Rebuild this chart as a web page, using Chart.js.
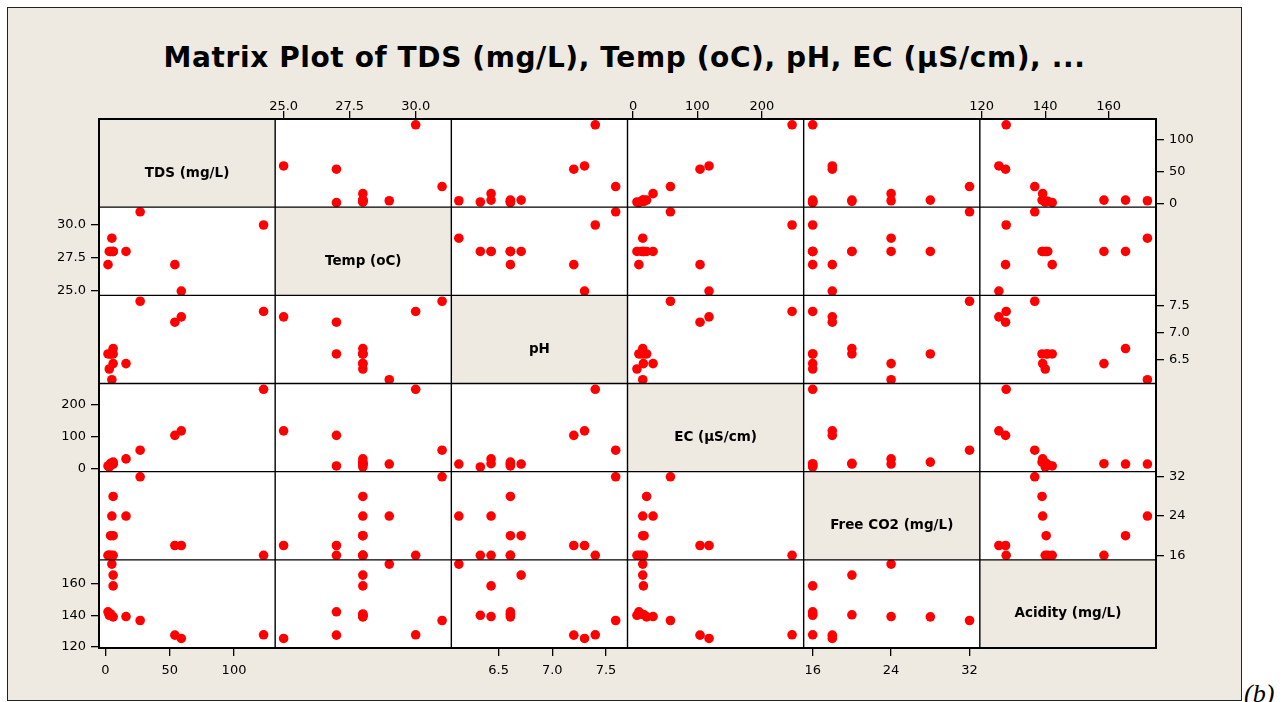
<!DOCTYPE html>
<html><head><meta charset="utf-8">
<script src="https://cdn.jsdelivr.net/npm/chart.js@4/dist/chart.umd.min.js"></script>
<style>
html,body{margin:0;padding:0;background:#fff;width:1287px;height:702px;overflow:hidden;}
#frame{position:absolute;left:7px;top:7px;width:1233px;height:692px;background:#EEEAE1;border:1px solid #222;}
#title{position:absolute;left:8px;width:1233px;top:42px;line-height:32px;text-align:center;font-weight:bold;font-size:28px;letter-spacing:0.6px;font-family:"DejaVu Sans";color:#000;white-space:nowrap;}
#cv{position:absolute;left:0;top:0;}
#tag{position:absolute;left:1244px;top:680px;font-style:italic;font-size:26px;font-family:"Liberation Serif";line-height:28px;}
</style></head><body>
<div id="frame"></div>
<div id="title">Matrix Plot of TDS (mg/L), Temp (oC), pH, EC (µS/cm), ...</div>
<div id="tag">(b)</div>
<canvas id="cv" width="1287" height="702"></canvas>
<script>
// Variable names (diagonal labels)
const varNames = ["TDS (mg/L)", "Temp (oC)", "pH", "EC (µS/cm)", "Free CO2 (mg/L)", "Acidity (mg/L)"];
// Sample values (13 samples)
const tds  = [27, 6, 5, 16, 6, 4, 54, 59, 6, 2, 4, 3, 123];
const temp = [31, 28, 29, 28, 28, 28, 27, 25, 28, 27, 28, 28, 30];
const ph   = [7.59, 6.61, 6.13, 6.43, 6.71, 6.61, 7.2, 7.3, 6.43, 6.61, 6.61, 6.33, 7.4];
const ec   = [58, 21, 15, 31, 15, 17, 104, 118, 16, 9, 13, 6, 247];
const co2  = [32, 28, 24, 24, 20, 20, 18, 18, 16, 16, 16, 16, 16];
const acid = [136.7, 139, 172.2, 139.2, 165.3, 140.3, 127.5, 125.4, 158.5, 142.2, 140.8, 140, 127.7];
// Axis tick values and labels
const tdsTicks  = [0, 50, 100];      const tdsLabels  = ["0", "50", "100"];
const tempTicks = [25, 27.5, 30];    const tempLabels = ["25.0", "27.5", "30.0"];
const phTicks   = [6.5, 7, 7.5];     const phLabels   = ["6.5", "7.0", "7.5"];
const ecTicks   = [0, 100, 200];     const ecLabels   = ["0", "100", "200"];
const co2Ticks  = [16, 24, 32];      const co2Labels  = ["16", "24", "32"];
const acidTicks = [120, 140, 160];   const acidLabels = ["120", "140", "160"];
// Axis bounds
const axisMin = [-5, 24.68, 6.06, -8.7, 15.08, 119.4];
const axisMax = [132, 31.35, 7.70, 265, 33.05, 174.9];

const vars = [tds, temp, ph, ec, co2, acid];
const ticksV = [tdsTicks, tempTicks, phTicks, ecTicks, co2Ticks, acidTicks];
const ticksL = [tdsLabels, tempLabels, phLabels, ecLabels, co2Labels, acidLabels];
const N = vars.length;
const BEIGE = '#EEEAE1';
const FONT = '"DejaVu Sans"';

function makeScale(i, position, stack, show) {
  const horiz = position === 'top' || position === 'bottom';
  return {
    type: 'linear', position: position, stack: stack, stackWeight: 1,
    min: axisMin[i], max: axisMax[i],
    afterBuildTicks: s => { s.ticks = show ? ticksV[i].map(v => ({value: v})) : []; },
    ticks: {
      display: show, autoSkip: false, maxRotation: 0, minRotation: 0,
      color: '#000', font: {family: FONT, size: 13},
      padding: horiz ? (position === 'top' ? -3 : 7) : 5,
      callback: v => { const k = ticksV[i].indexOf(v); return k >= 0 ? ticksL[i][k] : ''; }
    },
    grid: { display: show, drawOnChartArea: false, drawTicks: true, tickLength: 8, color: '#000', lineWidth: 1.3 },
    border: { display: false },
    afterFit: s => {
      if (horiz) { s.height = 30; } else { s.width = 45; }
      s.paddingLeft = 0; s.paddingRight = 0; s.paddingTop = 0; s.paddingBottom = 0;
    }
  };
}

const scales = {};
// left and top boxes are laid out in reverse index order
for (let i = N - 1; i >= 0; i--) scales['yl' + i] = makeScale(i, 'left', 'L', i % 2 === 1);
for (let i = N - 1; i >= 0; i--) scales['xt' + i] = makeScale(i, 'top', 'T', i % 2 === 1);
for (let i = 0; i < N; i++) scales['yr' + i] = makeScale(i, 'right', 'R', i % 2 === 0);
for (let i = 0; i < N; i++) scales['xb' + i] = makeScale(i, 'bottom', 'B', i % 2 === 0);

const datasets = [];
for (let r = 0; r < N; r++) {
  for (let c = 0; c < N; c++) {
    if (r === c) continue;
    datasets.push({
      label: varNames[r] + ' vs ' + varNames[c],
      data: vars[c].map((xv, k) => ({x: xv, y: vars[r][k]})),
      xAxisID: (c % 2 === 0 ? 'xb' : 'xt') + c,
      yAxisID: (r % 2 === 0 ? 'yr' : 'yl') + r,
      backgroundColor: '#FF0000', borderWidth: 0, pointRadius: 4.8, pointHoverRadius: 4.8,
      showLine: false
    });
  }
}

const matrixPlugin = {
  id: 'matrix',
  beforeDraw(chart) {
    const ctx = chart.ctx, a = chart.chartArea;
    ctx.save();
    ctx.fillStyle = '#FFFFFF';
    ctx.fillRect(a.left, a.top, a.right - a.left, a.bottom - a.top);
    ctx.fillStyle = BEIGE;
    for (let i = 0; i < N; i++) {
      const xs = chart.scales['xb' + i], ys = chart.scales['yr' + i];
      ctx.fillRect(xs.left, ys.top, xs.right - xs.left, ys.bottom - ys.top);
    }
    ctx.restore();
  },
  afterDraw(chart) {
    const ctx = chart.ctx, a = chart.chartArea;
    ctx.save();
    ctx.fillStyle = '#000';
    ctx.font = 'bold 13.5px ' + FONT;
    ctx.textAlign = 'center'; ctx.textBaseline = 'middle';
    for (let i = 0; i < N; i++) {
      const xs = chart.scales['xb' + i], ys = chart.scales['yr' + i];
      ctx.fillText(varNames[i], (xs.left + xs.right) / 2, (ys.top + ys.bottom) / 2 + 10);
    }
    ctx.strokeStyle = '#000';
    ctx.lineWidth = 1.4;
    ctx.beginPath();
    for (let i = 1; i < N; i++) {
      const x = chart.scales['xb' + i].left;
      ctx.moveTo(x, a.top); ctx.lineTo(x, a.bottom);
      const y = chart.scales['yr' + i].top;
      ctx.moveTo(a.left, y); ctx.lineTo(a.right, y);
    }
    ctx.stroke();
    ctx.lineWidth = 2;
    ctx.strokeRect(a.left, a.top, a.right - a.left, a.bottom - a.top);
    ctx.restore();
  }
};

new Chart(document.getElementById('cv'), {
  type: 'scatter',
  data: { datasets: datasets },
  options: {
    responsive: false, animation: false, devicePixelRatio: 1,
    layout: { autoPadding: false, padding: { left: 54, right: 86, top: 89, bottom: 24 } },
    plugins: { legend: { display: false }, tooltip: { enabled: false }, title: { display: false } },
    scales: scales
  },
  plugins: [matrixPlugin]
});
</script>
</body></html>
